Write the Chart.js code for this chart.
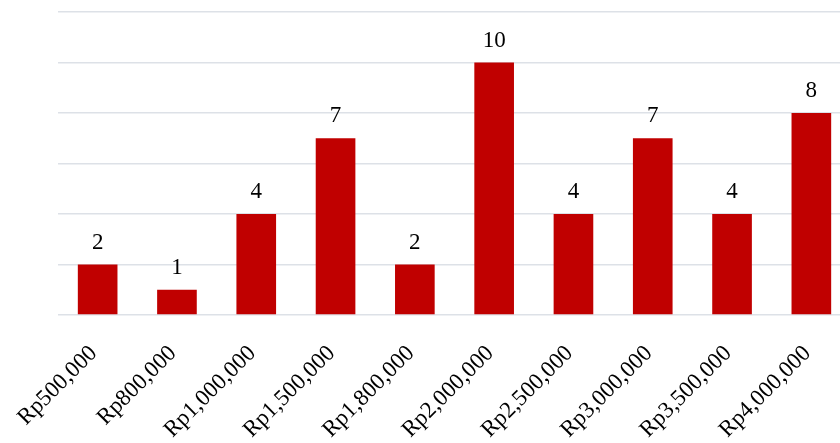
<!DOCTYPE html>
<html>
<head>
<meta charset="utf-8">
<script src="https://cdn.jsdelivr.net/npm/chart.js@4/dist/chart.umd.min.js"></script>
<style>
html,body{margin:0;padding:0;background:#fff;overflow:hidden;width:840px;height:443px;}
#wrap{position:relative;width:852px;height:443px;}
</style>
</head>
<body>
<div id="wrap"><canvas id="c"></canvas></div>
<script>
const categories = ["Rp500,000","Rp800,000","Rp1,000,000","Rp1,500,000","Rp1,800,000","Rp2,000,000","Rp2,500,000","Rp3,000,000","Rp3,500,000","Rp4,000,000"];
const counts = [2,1,4,7,2,10,4,7,4,8];
const yTicks = [0,2,4,6,8,10,12];

const valueLabels = {
  id: 'valueLabels',
  afterDatasetsDraw(chart) {
    const ctx = chart.ctx;
    const meta = chart.getDatasetMeta(0);
    ctx.save();
    ctx.fillStyle = '#000';
    ctx.font = '23px "Liberation Serif", "Times New Roman", serif';
    ctx.textAlign = 'center';
    ctx.textBaseline = 'alphabetic';
    meta.data.forEach((el, i) => {
      ctx.fillText(String(counts[i]), el.x, el.y - 16);
    });
    ctx.restore();
  }
};

new Chart(document.getElementById('c'), {
  type: 'bar',
  data: {
    labels: categories,
    datasets: [{
      data: counts,
      backgroundColor: '#C00000',
      borderWidth: 0,
      categoryPercentage: 1.0,
      barPercentage: 0.5
    }]
  },
  options: {
    responsive: true,
    maintainAspectRatio: false,
    animation: false,
    layout: { padding: { left: 58, right: 1, top: 12, bottom: 0 } },
    plugins: { legend: { display: false }, tooltip: { enabled: false } },
    scales: {
      x: {
        grid: { display: false },
        border: { display: false },
        ticks: {
          color: '#000',
          font: { family: '"Liberation Serif", "Times New Roman", serif', size: 23 },
          minRotation: 45, maxRotation: 45,
          padding: 17,
          labelOffset: -4
        },
        afterFit: (s) => { s.height = 128; }
      },
      y: {
        min: 0, max: 12,
        afterBuildTicks: (s) => { s.ticks = yTicks.map(v => ({ value: v })); },
        grid: { color: '#dde1e7', lineWidth: 1.5, drawTicks: false },
        border: { display: false },
        ticks: { display: false },
        afterFit: (s) => { s.width = 0; }
      }
    }
  },
  plugins: [valueLabels]
});
</script>
</body>
</html>
